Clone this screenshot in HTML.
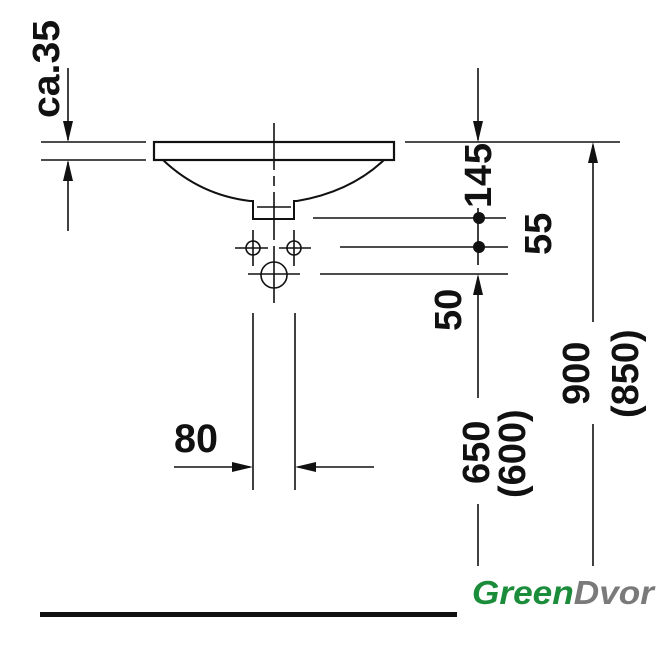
<!DOCTYPE html>
<html><head><style>body{margin:0;background:#fff}</style></head><body>
<svg width="666" height="640" viewBox="0 0 666 640" xmlns="http://www.w3.org/2000/svg">
<g stroke="#111" stroke-width="1.6" fill="none">
<line x1="41" y1="142" x2="146" y2="142"/><line x1="41" y1="160" x2="146" y2="160"/>
<line x1="68" y1="68" x2="68" y2="140"/><line x1="68" y1="162" x2="68" y2="231"/>
<rect x="154" y="142" width="240" height="18" stroke-width="2.2"/>
<path d="M163 160 Q200 195 250 201 L253 201 L253 219 L294 219 L294 201 L297 201 Q350 192 384 160" stroke-width="2"/>
<line x1="257" y1="207" x2="291" y2="207"/>
<line x1="274" y1="123" x2="274" y2="170"/><line x1="274" y1="176" x2="274" y2="186"/><line x1="274" y1="192" x2="274" y2="240"/><line x1="274" y1="246" x2="274" y2="303"/>
<circle cx="253" cy="248" r="7"/><circle cx="294" cy="248" r="7"/>
<line x1="235" y1="248" x2="268" y2="248"/><line x1="279" y1="248" x2="311" y2="248"/>
<line x1="253" y1="230" x2="253" y2="266"/><line x1="294" y1="230" x2="294" y2="266"/>
<circle cx="274" cy="275" r="13"/><line x1="248" y1="274" x2="300" y2="274"/>
<line x1="253" y1="313" x2="253" y2="490"/><line x1="295" y1="313" x2="295" y2="490"/>
<line x1="174" y1="467" x2="250" y2="467"/><line x1="298" y1="467" x2="374" y2="467"/>
<line x1="405" y1="142" x2="620" y2="142"/>
<line x1="313" y1="218" x2="506" y2="218"/><line x1="340" y1="247" x2="508" y2="247"/><line x1="320" y1="274" x2="508" y2="274"/>
<line x1="478" y1="68" x2="478" y2="140"/><line x1="478" y1="208" x2="478" y2="265"/>
<line x1="478" y1="277" x2="478" y2="398"/><line x1="478" y1="504" x2="478" y2="566"/>
<line x1="593" y1="145" x2="593" y2="322"/><line x1="593" y1="424" x2="593" y2="566"/>
</g>
<g fill="#111">
<polygon points="63,121 73,121 68,142"/><polygon points="63,181 73,181 68,160"/>
<polygon points="473,121 483,121 478,142"/><polygon points="473,295 483,295 478,274"/>
<polygon points="588,163 598,163 593,142"/>
<polygon points="232,462 232,472 253,467"/><polygon points="316,462 316,472 295,467"/>
<circle cx="479" cy="218" r="6"/><circle cx="479" cy="247" r="6"/>
<rect x="40" y="612" width="417" height="5"/>
</g>
<g font-family="Liberation Sans, sans-serif" font-weight="bold" font-size="38" fill="#111">
<text transform="translate(59,118) rotate(-90)" textLength="98" lengthAdjust="spacingAndGlyphs">ca.35</text>
<text transform="translate(491,208) rotate(-90)" textLength="65" lengthAdjust="spacing">145</text>
<text transform="translate(551,255) rotate(-90)">55</text>
<text transform="translate(461,331) rotate(-90)">50</text>
<text transform="translate(489,484) rotate(-90)">650</text>
<text transform="translate(525,498) rotate(-90)">(600)</text>
<text transform="translate(589,405) rotate(-90)">900</text>
<text transform="translate(638,418) rotate(-90)">(850)</text>
<text x="174" y="452" font-size="40" textLength="44" lengthAdjust="spacingAndGlyphs">80</text>
</g>
<text x="472" y="604" font-family="Liberation Sans, sans-serif" font-style="italic" font-weight="bold" font-size="33" textLength="182" lengthAdjust="spacingAndGlyphs"><tspan fill="#1a8c3a">Green</tspan><tspan fill="#7a7a7a">Dvor</tspan></text>
</svg>
</body></html>
